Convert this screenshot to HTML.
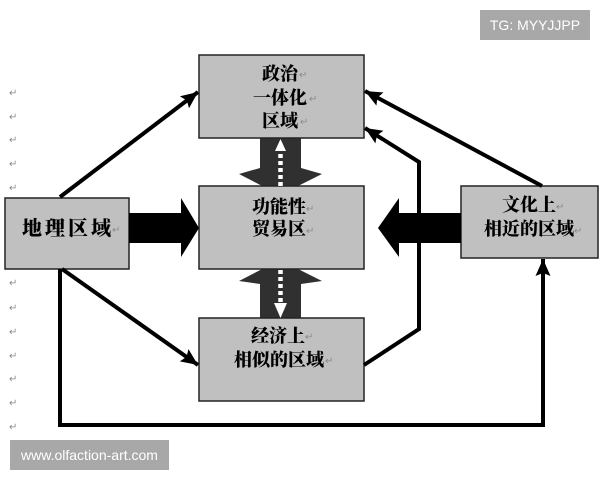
<!DOCTYPE html>
<html><head><meta charset="utf-8"><style>
html,body{margin:0;padding:0;background:#fff;}
svg{display:block;}
.cj{font-family:"Liberation Serif","Noto Serif CJK SC",serif;font-weight:900;fill:#000;}
.rm{font-family:"Liberation Sans","DejaVu Sans",sans-serif;fill:#8a8a8a;font-size:10px;}
.wm{font-family:"Liberation Sans","DejaVu Sans",sans-serif;fill:#fff;font-size:14px;}
</style></head><body>
<svg width="600" height="480" viewBox="0 0 600 480" xmlns="http://www.w3.org/2000/svg">
<defs>
<marker id="ah" markerUnits="userSpaceOnUse" markerWidth="20" markerHeight="16" refX="17" refY="7.5" orient="auto">
<path d="M0,0 L17,7.5 L0,15 L3,7.5 Z" fill="#000"/>
</marker>
</defs>

<!-- vertical dark arrows -->
<polygon points="260,138 301,138 301,168 322,174 290,190 270,190 239,174 260,168" fill="#303030"/>
<polygon points="260,318 301,318 301,284 322,281 290,265 270,265 239,281 260,284" fill="#303030"/>

<!-- boxes -->
<rect x="199" y="55" width="165" height="83" fill="#c0c0c0" stroke="#222" stroke-width="1.5"/>
<rect x="199" y="186" width="165" height="83" fill="#c0c0c0" stroke="#222" stroke-width="1.5"/>
<rect x="199" y="318" width="165" height="83" fill="#c0c0c0" stroke="#222" stroke-width="1.5"/>
<rect x="5" y="198" width="124" height="71" fill="#c0c0c0" stroke="#222" stroke-width="1.5"/>
<rect x="461" y="186" width="137" height="72" fill="#c0c0c0" stroke="#222" stroke-width="1.5"/>

<!-- white dashed arrows -->
<line x1="280.5" y1="186" x2="280.5" y2="151" stroke="#fff" stroke-width="4.5" stroke-dasharray="4,3"/>
<polygon points="275,151 286,151 280.5,139" fill="#fff"/>
<line x1="280.5" y1="270" x2="280.5" y2="303" stroke="#fff" stroke-width="4.5" stroke-dasharray="4,3"/>
<polygon points="274,303 287,303 280.5,318" fill="#fff"/>

<!-- big black arrows -->
<polygon points="129,213 181,213 181,198 199,228 181,257 181,243 129,243" fill="#000"/>
<polygon points="461,213 399,213 399,198 378,228 399,257 399,243 461,243" fill="#000"/>

<!-- line arrows -->
<g stroke="#000" stroke-width="4" fill="none" stroke-linejoin="miter">
<line x1="60" y1="197" x2="198" y2="92" marker-end="url(#ah)"/>
<line x1="62" y1="269" x2="198" y2="365" marker-end="url(#ah)"/>
<path d="M60,269 V425 H543 V259" marker-end="url(#ah)"/>
<line x1="542" y1="186" x2="365" y2="91" marker-end="url(#ah)"/>
<path d="M364,365 L419,329 V162 L365,128" marker-end="url(#ah)"/>
</g>

<!-- labels -->
<g class="cj" font-size="18" text-anchor="middle">
<text x="280" y="80">政治</text>
<text x="280" y="104">一体化</text>
<text x="280" y="127">区域</text>
<text x="279" y="213">功能性</text>
<text x="279" y="235">贸易区</text>
<text x="278" y="342">经济上</text>
<text x="279" y="366">相似的区域</text>
<text x="529" y="211">文化上</text>
<text x="529" y="235">相近的区域</text>
</g>
<text class="cj" x="22" y="235" font-size="20" letter-spacing="3">地理区域</text>

<!-- return marks -->
<g class="rm">
<text x="299" y="78">↵</text>
<text x="309" y="102">↵</text>
<text x="300" y="125">↵</text>
<text x="306" y="212">↵</text>
<text x="306" y="234">↵</text>
<text x="305" y="340">↵</text>
<text x="325" y="364">↵</text>
<text x="556" y="210">↵</text>
<text x="574" y="234">↵</text>
<text x="112" y="233">↵</text>
<text x="9" y="96">↵</text>
<text x="9" y="120">↵</text>
<text x="9" y="143">↵</text>
<text x="9" y="167">↵</text>
<text x="9" y="191">↵</text>
<text x="9" y="286">↵</text>
<text x="9" y="311">↵</text>
<text x="9" y="335">↵</text>
<text x="9" y="359">↵</text>
<text x="9" y="382">↵</text>
<text x="9" y="406">↵</text>
<text x="9" y="430">↵</text>
</g>

<!-- watermarks -->
<rect x="480" y="10" width="110" height="30" fill="#a8a8a8"/>
<text class="wm" x="535" y="30" text-anchor="middle">TG: MYYJJPP</text>
<rect x="10" y="440" width="159" height="30" fill="#a8a8a8"/>
<text class="wm" x="89.5" y="460" text-anchor="middle">www.olfaction-art.com</text>
</svg>
</body></html>
